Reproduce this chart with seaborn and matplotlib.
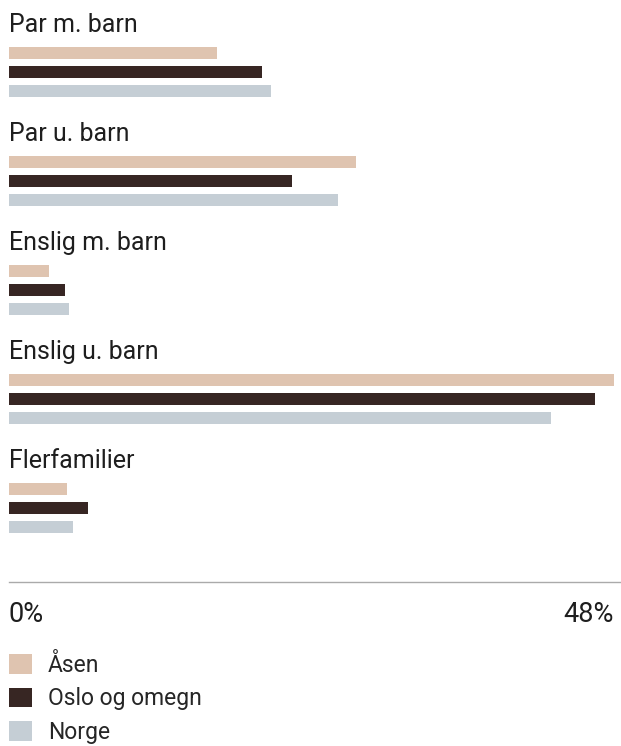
import pandas as pd
import seaborn as sns
import matplotlib.pyplot as plt
from matplotlib.patches import Patch

# Data (share of households, %)
categories = ['Par m. barn', 'Par u. barn', 'Enslig m. barn', 'Enslig u. barn', 'Flerfamilier']
regions = ['Åsen', 'Oslo og omegn', 'Norge']
asen = [16.5, 27.55, 3.15, 48.0, 4.58]
oslo = [20.07, 22.45, 4.42, 46.5, 6.27]
norge = [20.76, 26.1, 4.74, 43.0, 5.08]
colors = ['#dfc4b0', '#372623', '#c5ced5']
x_max = 48

rows = []
for region, vals in zip(regions, [asen, oslo, norge]):
    for cat, v in zip(categories, vals):
        rows.append({'category': cat, 'region': region, 'value': v})
df = pd.DataFrame(rows)

sns.set_style('white')
plt.rcParams['font.family'] = ['Roboto', 'DejaVu Sans']

fig = plt.figure(figsize=(6.21, 7.46), dpi=100)
# axes run to the right edge so the baseline extends past the 48% mark
ax = fig.add_axes([9 / 621, 1 - 582 / 746, 612 / 621, 582 / 746])

sns.barplot(data=df, x='value', y='category', hue='region', order=categories,
            hue_order=regions, palette=colors, orient='h', width=0.523, gap=0.42,
            saturation=1, linewidth=0, legend=False, ax=ax)

ax.set_xlim(0, x_max * 612 / 605)
ax.set_ylim(4 + 74 / 109, -72 / 109)

# category labels above each group
for i, cat in enumerate(categories):
    ax.text(0, i - 40 / 109, cat, va='baseline', ha='left', fontsize=18,
            color='#1e1e1e')

ax.set_yticks([])
ax.set_xlabel('')
ax.set_ylabel('')
ax.set_xticks([0, x_max])
ax.set_xticklabels(['0%', f'{x_max}%'], fontsize=19.5, color='#1e1e1e')
tl = ax.get_xticklabels()
tl[0].set_ha('left')
tl[1].set_ha('right')
ax.tick_params(axis='x', length=0, pad=14)

for s in ['top', 'right', 'left']:
    ax.spines[s].set_visible(False)
ax.spines['bottom'].set_color('#aaaaaa')
ax.spines['bottom'].set_linewidth(1)

handles = [Patch(facecolor=c, edgecolor='none', label=r) for c, r in zip(colors, regions)]
fig.legend(handles=handles, loc='upper left', bbox_to_anchor=(9 / 621, 1 - 654 / 746),
           frameon=False, fontsize=16.5, handlelength=0.99,
           handleheight=0.95, handletextpad=0.7, labelspacing=0.45, borderpad=0,
           borderaxespad=0)

fig.savefig('out.png', dpi=100)
